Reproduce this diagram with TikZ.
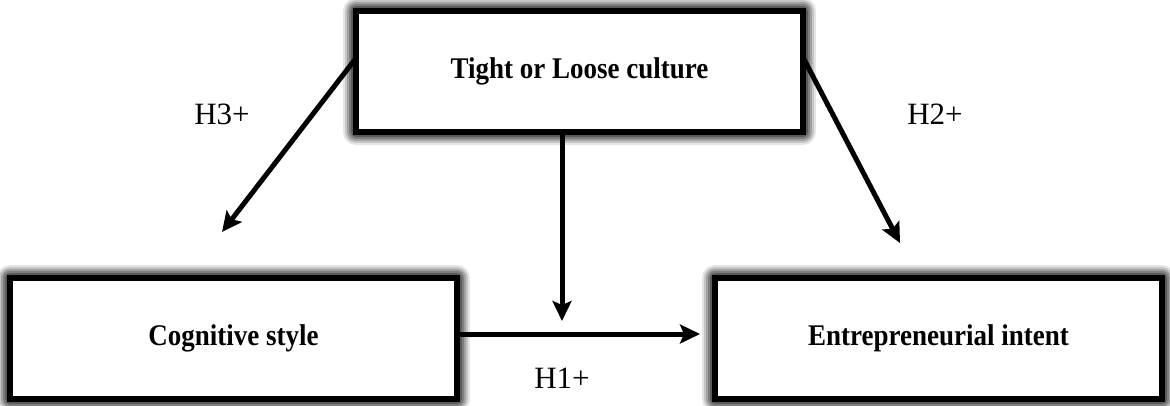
\documentclass[tikz,border=0pt]{standalone}
\usepackage{fontspec}
\setmainfont{Liberation Serif}
\usetikzlibrary{arrows.meta,calc}
\newcommand{\narrowtext}[1]{\scalebox{0.9}[1]{#1}}
\begin{document}
\begin{tikzpicture}[x=1pt,y=-1pt,
  construct/.style={draw=black, line width=6.5pt, fill=white, minimum width=447pt,
    minimum height=121pt, inner sep=0pt,
    font=\fontsize{30}{34}\selectfont\bfseries,
    % soft grey halo round each box, built from stacked translucent strokes
    preaction={draw=black, draw opacity=0.10, line join=round, line width=26pt},
    preaction={draw=black, draw opacity=0.14, line join=round, line width=22pt},
    preaction={draw=black, draw opacity=0.18, line join=round, line width=18pt},
    preaction={draw=black, draw opacity=0.22, line join=round, line width=14pt},
    preaction={draw=black, draw opacity=0.28, line join=round, line width=10pt}},
  link/.style={line width=5pt, -{Stealth[length=20pt,width=19pt,inset=4pt]}},
  hyp/.style={font=\fontsize{31}{34}\selectfont}]
\useasboundingbox (0,0) rectangle (1170,405);
% the three constructs
\node[construct] (culture) at (579.5,71.5) {\narrowtext{Tight or Loose culture}};
\node[construct] (cog) at (233.5,338.5) {\narrowtext{Cognitive style}};
\node[construct] (intent) at (938.5,338.5) {\narrowtext{Entrepreneurial intent}};
% free ends of the paths
\coordinate (h3end) at (222,232);
\coordinate (h2end) at (900,243);
\coordinate (modend) at (562,321);
\coordinate (h1end) at (700,334);
% hypothesised effects
\draw[link] ($(culture.north west)+(2,52)$) -- (h3end);
\draw[link] ($(culture.north east)+(-2,52)$) -- (h2end);
\draw[link] (culture.south -| modend) -- (modend);
\draw[link] (cog.east |- h1end) -- (h1end);
% labels
\node[hyp] (l3) at (222,114) {H3+};
\node[hyp] (l2) at (935,114) {H2+};
\node[hyp] (l1) at (562,378) {H1+};
\end{tikzpicture}
\end{document}
